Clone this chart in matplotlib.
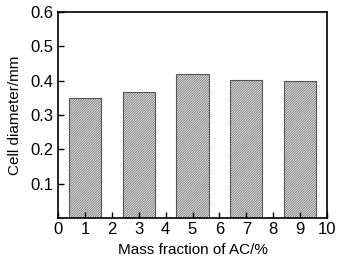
import matplotlib
matplotlib.use('Agg')
import matplotlib.pyplot as plt

plt.rcParams['font.family'] = ['Liberation Sans', 'DejaVu Sans']
plt.rcParams['hatch.linewidth'] = 0.45
plt.rcParams['hatch.color'] = '#505050'

# data
mass_fraction = [1, 3, 5, 7, 9]
cell_diameter = [0.350, 0.366, 0.418, 0.402, 0.399]

fig = plt.figure(figsize=(3.46, 2.62), dpi=100)
ax = fig.add_axes([58/346, 1 - 218/262, (327-58)/346, (218-12)/262])

ax.bar(mass_fraction, cell_diameter, width=1.2, color='#e8e8e8',
       edgecolor='#555555', linewidth=0.8, hatch='/' * 14)

ax.set_xlim(0, 10)
ax.set_ylim(0, 0.6)
ax.set_xticks(range(0, 11))
ax.set_yticks([0.1, 0.2, 0.3, 0.4, 0.5, 0.6])
ax.tick_params(direction='in', labelsize=12, length=4, width=1, pad=3)
for s in ax.spines.values():
    s.set_linewidth(1.2)

ax.set_xlabel('Mass fraction of AC/%', fontsize=11, labelpad=4)
ax.set_ylabel('Cell diameter/mm', fontsize=11, labelpad=6)

fig.savefig('out.png', dpi=100)
